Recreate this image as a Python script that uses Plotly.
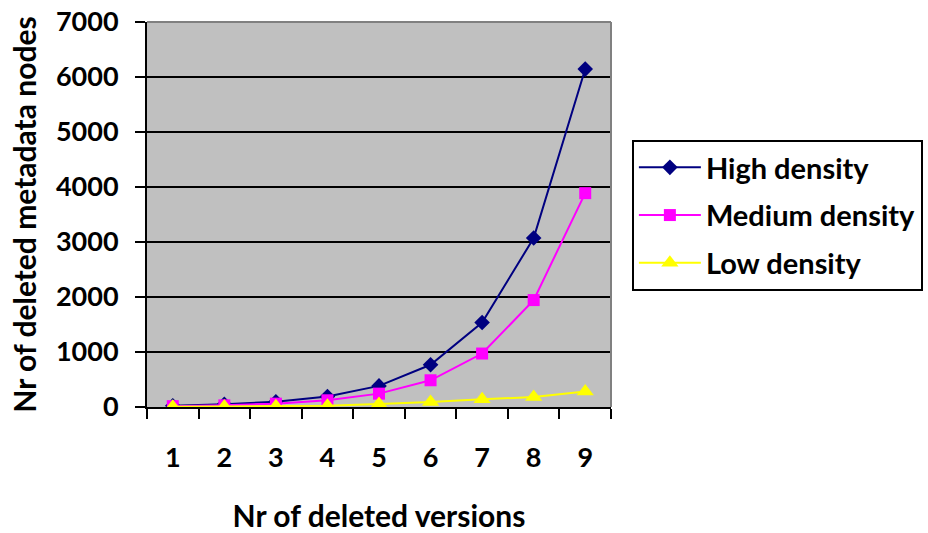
import plotly.graph_objects as go

versions = ["1", "2", "3", "4", "5", "6", "7", "8", "9"]
high_density = [24, 48, 96, 192, 384, 768, 1536, 3072, 6144]
medium_density = [15, 30, 61, 122, 243, 486, 972, 1944, 3888]
low_density = [5, 8, 15, 25, 55, 90, 140, 180, 280]
y_ticks = [0, 1000, 2000, 3000, 4000, 5000, 6000, 7000]

FONT = "Lato"

fig = go.Figure()
fig.add_trace(go.Scatter(
    x=versions, y=high_density, name="High density", mode="lines+markers",
    line=dict(color="#000080", width=2),
    marker=dict(symbol="diamond", size=12, color="#000080"),
    legendgroup="a",
))
fig.add_trace(go.Scatter(
    x=versions, y=medium_density, name="Medium density", mode="lines+markers",
    line=dict(color="#FF00FF", width=2),
    marker=dict(symbol="square", size=12, color="#FF00FF"),
    legendgroup="b",
))
fig.add_trace(go.Scatter(
    x=versions, y=low_density, name="Low density", mode="lines+markers",
    line=dict(color="#FFFF00", width=2),
    marker=dict(symbol="triangle-up", size=15, color="#FFFF00"),
    legendgroup="c",
))

# grey border along the top and right of the plot area
fig.add_shape(type="line", xref="paper", yref="paper", x0=0, x1=1, y0=1, y1=1,
              line=dict(color="#808080", width=2), layer="above")
fig.add_shape(type="line", xref="paper", yref="paper", x0=1, x1=1, y0=0, y1=1,
              line=dict(color="#808080", width=2), layer="above")

fig.update_layout(
    width=928, height=533,
    margin=dict(l=147, r=317, t=22, b=126, autoexpand=False),
    paper_bgcolor="white",
    plot_bgcolor="#C0C0C0",
    font=dict(family=FONT, size=26, color="black", weight="bold"),
    showlegend=True,
    legend=dict(
        x=1.045, y=0.6935, xanchor="left", yanchor="top",
        bgcolor="white", bordercolor="black", borderwidth=2,
        font=dict(family=FONT, size=29, color="black", weight="bold"),
        traceorder="grouped", tracegroupgap=7, itemwidth=62,
    ),
    xaxis=dict(
        type="category", tickvals=versions, ticktext=versions,
        range=[-0.5, 8.5],
        tickson="boundaries", ticks="outside", ticklen=10, tickwidth=2,
        tickcolor="black", showline=True, linecolor="black", linewidth=2,
        showgrid=False, ticklabelstandoff=26,
        tickfont=dict(family=FONT, size=27, weight="bold"),
        title=dict(text="Nr of deleted versions", standoff=36,
                   font=dict(family=FONT, size=30, weight="bold")),
    ),
    yaxis=dict(
        range=[0, 7000], tickvals=y_ticks, ticks="outside", ticklen=10,
        tickwidth=2, tickcolor="black", showline=True, linecolor="black",
        linewidth=2, showgrid=True, gridcolor="black", gridwidth=2,
        zeroline=False, ticklabelstandoff=11,
        tickfont=dict(family=FONT, size=27, weight="bold"),
        title=dict(text="Nr of deleted metadata nodes", standoff=10,
                   font=dict(family=FONT, size=30, weight="bold")),
    ),
)

fig.write_html("out.html")
